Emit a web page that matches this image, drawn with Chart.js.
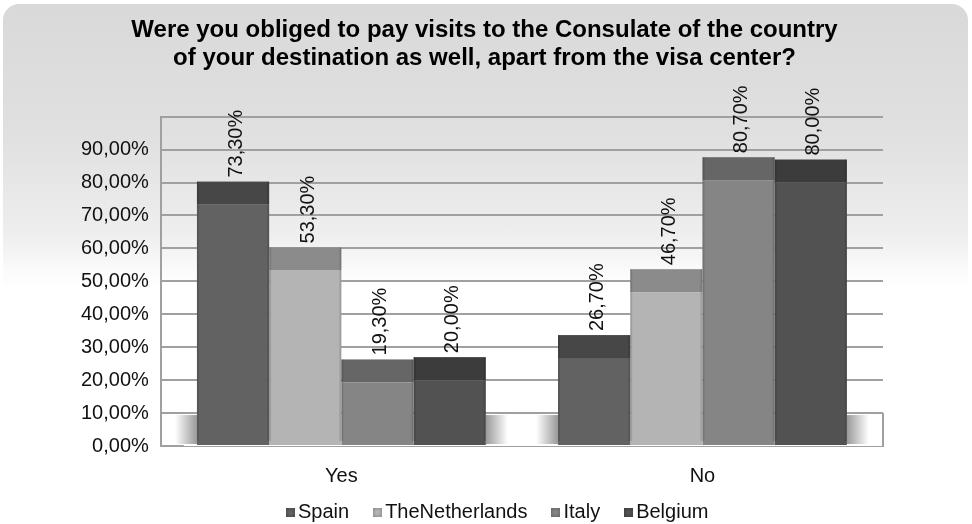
<!DOCTYPE html>
<html>
<head>
<meta charset="utf-8">
<script src="https://cdn.jsdelivr.net/npm/chart.js@4.4.1/dist/chart.umd.min.js"></script>
<style>
  html, body { margin: 0; padding: 0; background: #fff; }
  .frame { position: relative; width: 972px; height: 524px; }
  .frame::before {
    content: ''; position: absolute; left: 3px; top: 4px; right: 4px; bottom: 0;
    border-radius: 16px;
    background: linear-gradient(#d9d9d9 0px, #e0e0e0 130px, #eeeeee 230px, #fbfbfb 268px, #ffffff 285px);
  }
  canvas { position: relative; }
  #legend {
    position: absolute; left: 286px; top: 500px; display: flex; align-items: center;
    font: 20px "Liberation Sans", Arial, sans-serif; color: #111; white-space: nowrap;
  }
  #legend .item { display: flex; align-items: center; margin-right: 24px; }
  #legend .box { width: 9px; height: 9px; margin-right: 3px; margin-top: 1px; }
</style>
</head>
<body>
<div class="frame">
  <canvas id="visitChart" width="972" height="524"></canvas>
  <div id="legend"></div>
</div>
<script>
const categories = ['Yes', 'No'];
const countries = ['Spain', 'TheNetherlands', 'Italy', 'Belgium'];
const spain = [73.3, 26.7];
const netherlands = [53.3, 46.7];
const italy = [19.3, 80.7];
const belgium = [20.0, 80.0];

// front face and darker top face for each country
const frontColors = ['#626262', '#b4b4b4', '#858585', '#525252'];
const capColors = ['#474747', '#8b8b8b', '#666666', '#3c3c3c'];
const CAP_H = 23;
const FONT = '"Liberation Sans", Arial, sans-serif';

function pct(v) {
  return v.toFixed(2).replace('.', ',') + '%';
}

const bar3d = {
  id: 'bar3d',
  afterLayout(chart) {
    // title sits a little right of the plot centre
    chart.titleBlock.left += 17;
  },
  beforeDatasetsDraw(chart) {
    const { ctx, chartArea, scales: { y } } = chart;
    const top = y.getPixelForValue(10);
    const bottom = y.getPixelForValue(0);
    const left = chartArea.left + 23;
    ctx.save();
    ctx.fillStyle = '#ffffff';
    ctx.fillRect(left, top, chartArea.right - left, bottom - top);
    // soft shadow at both sides of each bar group on the floor
    categories.forEach((c, i) => {
      const first = chart.getDatasetMeta(0).data[i];
      const last = chart.getDatasetMeta(countries.length - 1).data[i];
      const gl = first.x - first.width / 2;
      const gr = last.x + last.width / 2;
      let g = ctx.createLinearGradient(gl - 22, 0, gl, 0);
      g.addColorStop(0, 'rgba(0,0,0,0)');
      g.addColorStop(1, 'rgba(0,0,0,0.4)');
      ctx.fillStyle = g;
      ctx.fillRect(gl - 22, top + 2, 22, bottom - top - 4);
      g = ctx.createLinearGradient(gr, 0, gr + 22, 0);
      g.addColorStop(0, 'rgba(0,0,0,0.4)');
      g.addColorStop(1, 'rgba(0,0,0,0)');
      ctx.fillStyle = g;
      ctx.fillRect(gr, top + 2, 22, bottom - top - 4);
    });
    ctx.strokeStyle = '#a0a0a0';
    ctx.lineWidth = 2;
    ctx.beginPath();
    ctx.moveTo(chartArea.left, top);
    ctx.lineTo(chartArea.right, top);
    ctx.moveTo(chartArea.right, top);
    ctx.lineTo(chartArea.right, bottom);
    ctx.stroke();
    ctx.restore();
  },
  afterDatasetsDraw(chart) {
    const { ctx } = chart;
    ctx.save();
    chart.data.datasets.forEach((ds, di) => {
      chart.getDatasetMeta(di).data.forEach((bar, i) => {
        const l = bar.x - bar.width / 2;
        const h = bar.base - bar.y;
        ctx.fillStyle = capColors[di];
        ctx.fillRect(l, bar.y - CAP_H, bar.width, CAP_H);
        // thin shading on the bar edges
        ctx.fillStyle = 'rgba(0,0,0,0.12)';
        ctx.fillRect(l, bar.y - CAP_H, 2, h + CAP_H - 4);
        ctx.fillRect(l + bar.width - 2, bar.y - CAP_H, 2, h + CAP_H - 4);
        ctx.save();
        ctx.translate(bar.x + 3, bar.y - CAP_H - 4);
        ctx.rotate(-Math.PI / 2);
        ctx.fillStyle = '#111';
        ctx.font = '20px ' + FONT;
        ctx.textAlign = 'left';
        ctx.textBaseline = 'middle';
        ctx.fillText(pct(ds.data[i]), 0, 0);
        ctx.restore();
      });
    });
    ctx.restore();
  }
};

const chart = new Chart(document.getElementById('visitChart'), {
  type: 'bar',
  data: {
    labels: categories,
    datasets: [
      { label: countries[0], data: spain, backgroundColor: frontColors[0] },
      { label: countries[1], data: netherlands, backgroundColor: frontColors[1] },
      { label: countries[2], data: italy, backgroundColor: frontColors[2] },
      { label: countries[3], data: belgium, backgroundColor: frontColors[3] }
    ]
  },
  options: {
    responsive: false,
    animation: false,
    layout: { padding: { left: 69, right: 89, top: 0, bottom: 26 } },
    datasets: { bar: { categoryPercentage: 0.8, barPercentage: 1.0 } },
    scales: {
      x: {
        grid: { display: false },
        border: { color: '#a0a0a0', width: 2 },
        ticks: { color: '#111', font: { family: FONT, size: 20 }, padding: 10 }
      },
      y: {
        min: 0,
        max: 100,
        grid: { color: '#a0a0a0', lineWidth: 2, drawTicks: false },
        border: { color: '#a0a0a0', width: 2 },
        ticks: {
          stepSize: 10,
          padding: 12,
          color: '#111',
          font: { family: FONT, size: 20 },
          callback: v => (v >= 100 ? '' : pct(v))
        }
      }
    },
    plugins: {
      title: {
        display: true,
        text: ['Were you obliged to pay visits to the Consulate of the country',
               'of your destination as well, apart from the visa center?'],
        color: '#000',
        font: { family: FONT, size: 24, weight: 'bold', lineHeight: 1.18 },
        padding: { top: 16, bottom: 44 }
      },
      legend: { display: false },
      tooltip: { enabled: false }
    }
  },
  plugins: [bar3d]
});

// legend under the chart, built from the datasets
document.getElementById('legend').innerHTML = chart.data.datasets.map((ds, i) => `
  <span class="item"><span class="box" style="background: radial-gradient(circle, ${frontColors[i]} 20%, ${capColors[i]} 100%)"></span>${ds.label}</span>
`).join('');
</script>
</body>
</html>
